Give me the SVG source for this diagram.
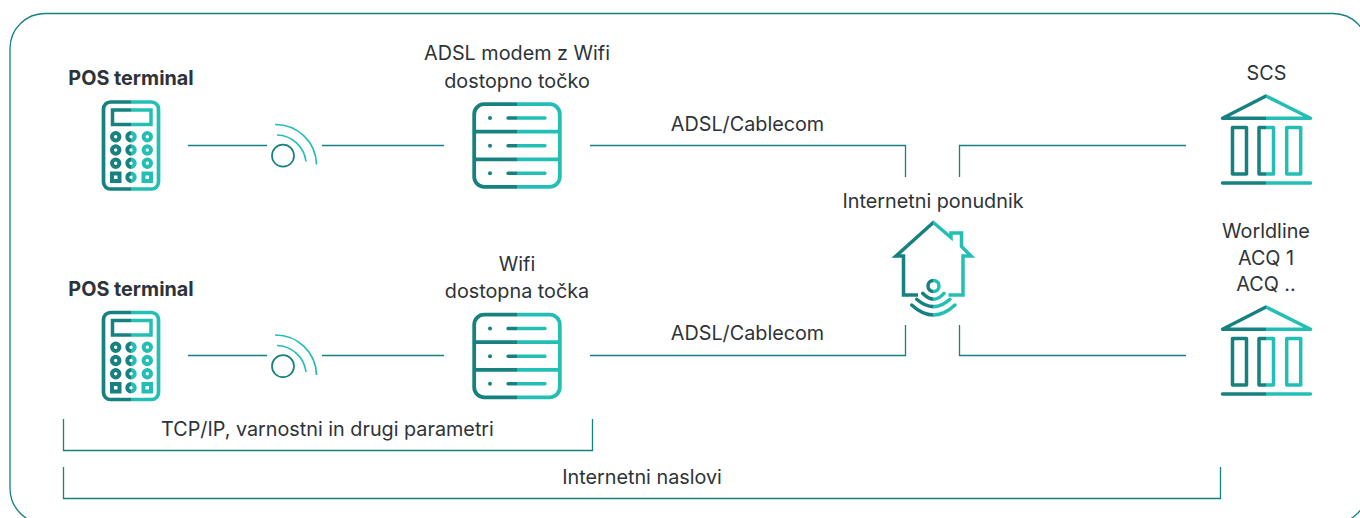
<svg xmlns="http://www.w3.org/2000/svg" width="1360" height="518" viewBox="0 0 1360 518">
<defs>
<linearGradient id="gp" gradientUnits="userSpaceOnUse" x1="102" y1="0" x2="160" y2="0"><stop offset="0.5" stop-color="#16817f"/><stop offset="0.5" stop-color="#23bfb5"/></linearGradient>
<linearGradient id="gs" gradientUnits="userSpaceOnUse" x1="473" y1="0" x2="562" y2="0"><stop offset="0.5" stop-color="#16817f"/><stop offset="0.5" stop-color="#23bfb5"/></linearGradient>
<linearGradient id="gb" gradientUnits="userSpaceOnUse" x1="1221" y1="0" x2="1311" y2="0"><stop offset="0.5" stop-color="#16817f"/><stop offset="0.5" stop-color="#23bfb5"/></linearGradient>
<linearGradient id="gh" gradientUnits="userSpaceOnUse" x1="891" y1="0" x2="976" y2="0"><stop offset="0.5" stop-color="#16817f"/><stop offset="0.5" stop-color="#23bfb5"/></linearGradient>
<g id="pos" fill="none">
<rect x="103.500" y="102" width="55" height="87" rx="7" stroke="url(#gp)" stroke-width="3.700"/>
<rect x="112.500" y="110" width="38.500" height="14.500" stroke="url(#gp)" stroke-width="3.500"/>
<g stroke-width="4" stroke="url(#gp)">
<circle cx="115.700" cy="136.700" r="3.700"/><circle cx="131" cy="136.700" r="3.700"/><circle cx="147.300" cy="136.700" r="3.700"/>
<circle cx="115.700" cy="150" r="3.700"/><circle cx="131" cy="150" r="3.700"/><circle cx="147.300" cy="150" r="3.700"/>
<circle cx="115.700" cy="163.300" r="3.700"/><circle cx="131" cy="163.300" r="3.700"/><circle cx="147.300" cy="163.300" r="3.700"/>
<rect x="112" y="173.500" width="7.500" height="7.500"/><circle cx="131" cy="177.300" r="3.700"/><rect x="143.500" y="173.500" width="7.500" height="7.500"/>
</g></g>
<g id="wifi" fill="none" stroke-width="1.700">
<circle cx="283" cy="155.700" r="11" stroke="#16817f"/>
<path d="M275 124.500A41 41 0 0 1 316.500 164.500" stroke="#23bfb5"/>
<path d="M277 135A30 30 0 0 1 306 161.500" stroke="#23bfb5"/>
</g>
<g id="srv" fill="none" stroke="url(#gs)" stroke-width="3.800" stroke-linecap="round">
<rect x="474.200" y="104.200" width="85.600" height="82.600" rx="10"/>
<path d="M474.200 131.700H559.800M474.200 159.300H559.800" stroke-linecap="butt"/>
<path d="M508 118H545M508 145.700H545M508 173.300H545" stroke-width="3.400"/>
<g fill="#16817f" stroke="none"><circle cx="490" cy="118" r="2"/><circle cx="490" cy="145.700" r="2"/><circle cx="490" cy="173.300" r="2"/></g>
</g>
<g id="bank" fill="none" stroke="url(#gb)" stroke-width="3.500" stroke-linecap="round" stroke-linejoin="round">
<path d="M1222.500 118.300L1266 96L1310.500 118.300Z"/>
<rect x="1232.500" y="127.500" width="14" height="46.500"/><rect x="1259" y="127.500" width="14.500" height="46.500"/><rect x="1286.700" y="127.500" width="14" height="46.500"/>
<path d="M1222.500 183H1310.500"/>
</g>
</defs>
<style>
text{font-family:Inter,"Liberation Sans",sans-serif;font-size:19.800px;fill:#2d3338;text-anchor:middle}
.b{font-weight:700}
.l{fill:none;stroke:#16817f;stroke-width:1.300}
</style>
<g id="frame"><rect class="l" x="10" y="13.500" width="1358" height="510" rx="35"/></g>
<g id="connectors">
<path class="l" d="M188 145.500H267M322 145.500H444M590 145.500H905.500V177M959.500 177V145.500H1186"/>
<path class="l" d="M188 355.500H267M322 355.500H444M590 355.500H905.500V325M959.500 325V355.500H1186"/>
<path class="l" d="M63.500 419V450.500H592.500V419"/>
<path class="l" d="M63.500 467V498.500H1220.500V467"/>
</g>
<g id="pos1"><use href="#pos"/><text class="b" x="131" y="84.500">POS terminal</text></g>
<g id="wifi1"><use href="#wifi"/></g>
<g id="modem"><use href="#srv"/><text x="517" y="60">ADSL modem z Wifi</text><text x="517" y="87.500">dostopno točko</text></g>
<g id="pos2"><use href="#pos" y="210.500"/><text class="b" x="131" y="295.500">POS terminal</text></g>
<g id="wifi2"><use href="#wifi" y="210.500"/></g>
<g id="ap"><use href="#srv" y="210.500"/><text x="517" y="270.500">Wifi</text><text x="517" y="298">dostopna točka</text></g>
<g id="scs"><use href="#bank"/><text x="1266.500" y="79.500">SCS</text></g>
<g id="acq"><use href="#bank" y="211"/><text x="1266" y="237.500">Worldline</text><text x="1266" y="264.500">ACQ 1</text><text x="1266" y="291">ACQ ..</text></g>
<g id="isp"><text x="933" y="207.500">Internetni ponudnik</text>
<g fill="none" stroke="url(#gh)" stroke-width="3.500" stroke-linecap="butt">
<path d="M918 295H903.500V256H896L933.300 222.500L951 237.500V233H961.500V246.500L971 256H963V295H948.500"/>
<circle cx="933.500" cy="286" r="5.500"/>
<path stroke-linecap="round" d="M922.700 293.300Q933.500 305 944 293.300M916.700 299.300Q933.500 314 950 299.300M911.700 305Q933.500 325 955 305"/>
</g></g>
<g id="labels">
<text x="747.500" y="130.500">ADSL/Cablecom</text>
<text x="747.500" y="339.500">ADSL/Cablecom</text>
<text x="327.500" y="435.500">TCP/IP, varnostni in drugi parametri</text>
<text x="642" y="483.500">Internetni naslovi</text>
</g>
</svg>
